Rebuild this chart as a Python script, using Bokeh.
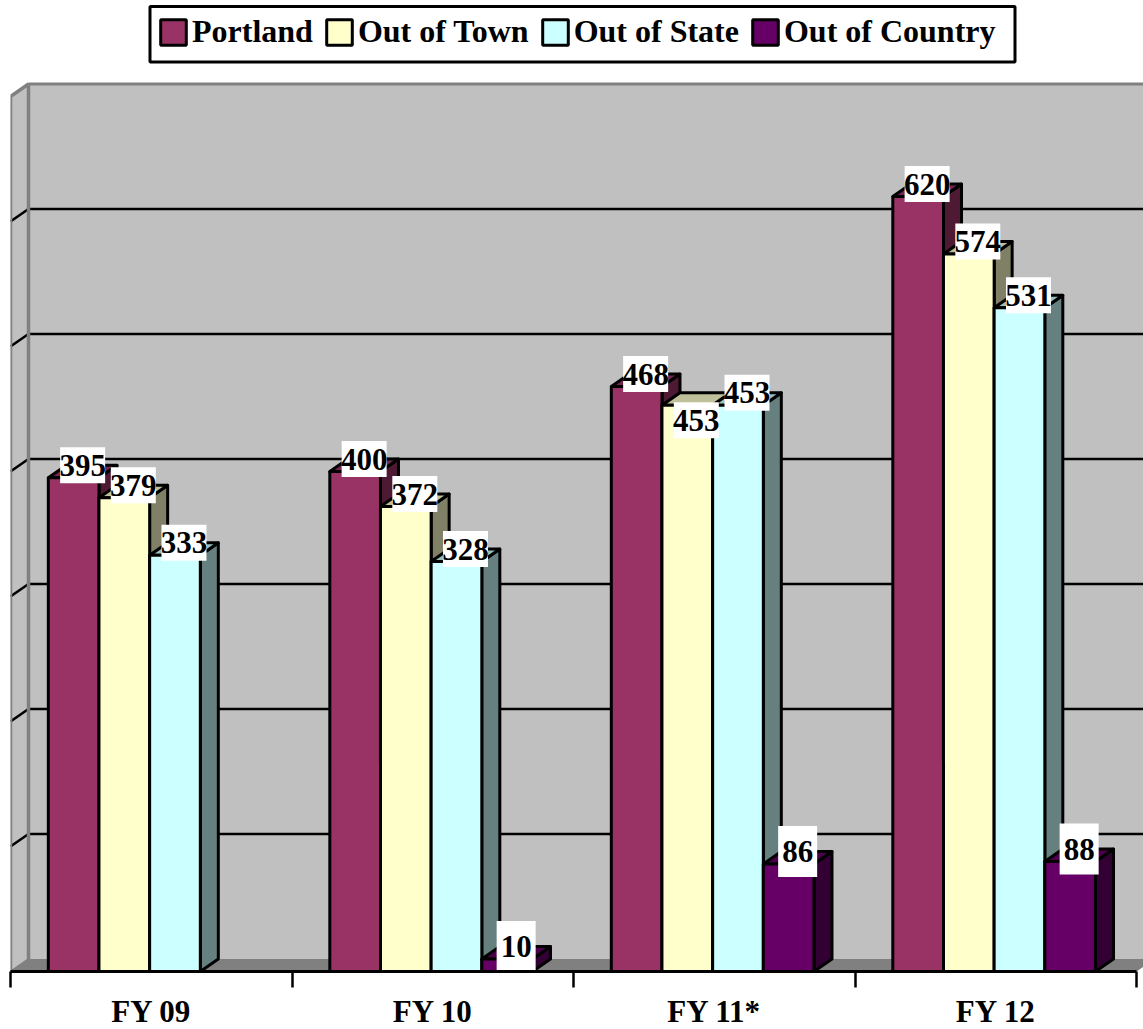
from bokeh.plotting import figure
from bokeh.models import (ColumnDataSource, Range1d, LinearAxis, FixedTicker, Legend, LegendItem)
from bokeh.core.properties import value
from bokeh.embed import file_html
from bokeh.resources import INLINE

categories = ["FY 09", "FY 10", "FY 11*", "FY 12"]
series_names = ["Portland", "Out of Town", "Out of State", "Out of Country"]
portland = [395, 400, 468, 620]
out_of_town = [379, 372, 453, 574]
out_of_state = [333, 328, 453, 531]
out_of_country = [None, 10, 86, 88]
grid_values = [100, 200, 300, 400, 500, 600]

front_colors = ["#993366", "#FFFFCC", "#CCFFFF", "#660066"]
top_colors = ["#732650", "#BFBF99", "#99BFBF", "#4C004C"]
side_colors = ["#4D1933", "#808066", "#668080", "#330033"]

FONT = "Liberation Serif"
GROUP_PX = 281.5
UNIT_PX = 1.25
FRAME_W, FRAME_H = 1133, 971
DX = 18 / GROUP_PX          # 3D depth, in x units
DY = 10                     # 3D depth, in value units
BAR_W = 0.18
BAR_START = 0.1343
WALL_TOP = 700

p = figure(width=1143, height=1029, frame_width=FRAME_W, frame_height=FRAME_H,
           x_range=Range1d(0, FRAME_W / GROUP_PX), y_range=Range1d(0, FRAME_H / UNIT_PX),
           x_axis_location=None, y_axis_location=None, toolbar_location=None,
           output_backend="svg", min_border_left=10, min_border_right=0, min_border_top=0,
           min_border_bottom=0, background_fill_color="white", border_fill_color="white",
           outline_line_color=None)
p.grid.visible = False

right = FRAME_W / GROUP_PX + 0.2
n = len(categories)
# Walls and floor
p.quad(left=[DX], right=[right], bottom=[DY], top=[WALL_TOP + DY], fill_color="#C0C0C0", line_color=None)
p.patch([0, DX, DX, 0], [0, DY, WALL_TOP + DY, WALL_TOP], fill_color="#C0C0C0", line_color=None)
p.patch([0, n, n + DX, DX], [0, 0, DY, DY], fill_color="#808080", line_color=None)
# Gridlines
p.segment(x0=[DX] * len(grid_values), x1=[right] * len(grid_values),
          y0=[v + DY for v in grid_values], y1=[v + DY for v in grid_values],
          line_color="black", line_width=2.5)
p.segment(x0=[0] * len(grid_values), x1=[DX] * len(grid_values),
          y0=grid_values, y1=[v + DY for v in grid_values], line_color="black", line_width=2.5)
# Wall edges
p.line([DX, right], [WALL_TOP + DY] * 2, line_color="#808080", line_width=3)
p.line([0, 0, DX, DX], [0, WALL_TOP, WALL_TOP + DY, DY], line_color="#808080", line_width=3.5)
p.line([0, DX], [0, DY], line_color="#808080", line_width=2)

# Legend frame, in page pixels converted to the chart's units
p.quad(left=[(149.5 - 10) / GROUP_PX], right=[(1014.5 - 10) / GROUP_PX],
       bottom=[(971 - 61.5) / UNIT_PX], top=[(971 - 6) / UNIT_PX],
       fill_color="white", line_color="black", line_width=3)

# Bars
all_series = [portland, out_of_town, out_of_state, out_of_country]
fronts = []
for s, vals in enumerate(all_series):
    lefts, rights, tops = [], [], []
    side_x, side_y, top_x, top_y = [], [], [], []
    for g, v in enumerate(vals):
        if v is None:
            continue
        l = g + BAR_START + s * BAR_W
        r = l + BAR_W
        lefts.append(l); rights.append(r); tops.append(v)
        side_x.append([r, r + DX, r + DX, r])
        side_y.append([0, DY, v + DY, v])
        top_x.append([l, l + DX, r + DX, r])
        top_y.append([v, v + DY, v + DY, v])
    p.patches(side_x, side_y, fill_color=side_colors[s], line_color="black", line_width=3, line_join="round")
    p.patches(top_x, top_y, fill_color=top_colors[s], line_color="black", line_width=3, line_join="round")
    src = ColumnDataSource(dict(left=lefts, right=rights, top=tops, bottom=[0] * len(tops)))
    fronts.append(p.quad(left="left", right="right", top="top", bottom="bottom", source=src,
                         fill_color=front_colors[s], line_color="black", line_width=3))

# Data labels on white boxes
lx, ly, lt, lh, lw = [], [], [], [], []
for s, vals in enumerate(all_series):
    for g, v in enumerate(vals):
        if v is None:
            continue
        lx.append(g + BAR_START + s * BAR_W + (BAR_W + DX) / 2)
        # the one label the original moved down inside its bar
        nudge = -22 if (s == 1 and g == 2) else 0
        ly.append(v + DY + nudge)
        lt.append(str(v))
        lw.append(45 if v >= 100 else 39)
        lh.append(36 if v >= 100 else 51)
lsrc = ColumnDataSource(dict(x=lx, y=ly, t=lt, w=lw, h=lh))
p.rect(x="x", y="y", width="w", height="h", width_units="screen", height_units="screen",
       source=lsrc, fill_color="white", line_color=None)
p.text(x="x", y="y", text="t", source=lsrc, text_align="center", text_baseline="middle",
       text_font=value(FONT), text_font_style="bold", text_font_size="31px", text_color="black")

# Axes: tick axis, then a label axis beneath it
tick_axis = LinearAxis(ticker=FixedTicker(ticks=list(range(n + 1))), bounds=(0, n),
                       axis_line_color="black", axis_line_width=3,
                       major_tick_line_color="black", major_tick_line_width=2.5,
                       major_tick_out=16, major_tick_in=0, minor_tick_line_color=None,
                       major_label_text_font_size="1px", major_label_text_color=None,
                       major_label_standoff=0)
p.add_layout(tick_axis, "below")
centres = [g + 0.5 for g in range(n)]
label_axis = LinearAxis(ticker=FixedTicker(ticks=centres),
                        major_label_overrides={c: t for c, t in zip(centres, categories)},
                        axis_line_color=None, major_tick_line_color=None, minor_tick_line_color=None,
                        major_label_text_font=FONT, major_label_text_font_style="bold",
                        major_label_text_font_size="31px", major_label_text_color="black",
                        major_label_standoff=0)
p.add_layout(label_axis, "below")

# Legend
legend = Legend(items=[LegendItem(label=name, renderers=[fronts[i]]) for i, name in enumerate(series_names)],
                orientation="horizontal", location=(147, 921),
                border_line_color=None, background_fill_alpha=0,
                label_text_font=FONT, label_text_font_style="bold",
                label_text_font_size="32px", label_text_color="black", glyph_width=32, glyph_height=32,
                label_standoff=3, spacing=10, padding=8, margin=0, label_height=35)
p.add_layout(legend, "center")

open("out.html", "w").write(file_html(p, INLINE))
